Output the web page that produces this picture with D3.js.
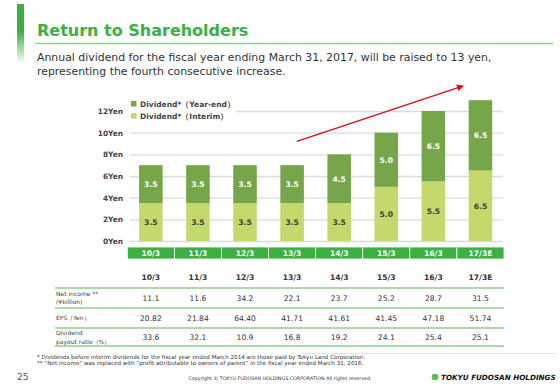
<!DOCTYPE html>
<html>
<head>
<meta charset="utf-8">
<script src="https://cdn.jsdelivr.net/npm/d3@7"></script>
<style>
  body { margin: 0; background: #fff; }
  svg { display: block; font-family: "DejaVu Sans", Verdana, sans-serif; }
</style>
</head>
<body>
<div class="chart"></div>
<script>
// data ------------------------------------------------------------
const categories = ["10/3", "11/3", "12/3", "13/3", "14/3", "15/3", "16/3", "17/3E"];
const interim = [3.5, 3.5, 3.5, 3.5, 3.5, 5.0, 5.5, 6.5];
const yearEnd = [3.5, 3.5, 3.5, 3.5, 4.5, 5.0, 6.5, 6.5];
const yTicks = [0, 2, 4, 6, 8, 10, 12];
const netIncome = [11.1, 11.6, 34.2, 22.1, 23.7, 25.2, 28.7, 31.5];
const eps = [20.82, 21.84, 64.40, 41.71, 41.61, 41.45, 47.18, 51.74];
const payout = [33.6, 32.1, 10.9, 16.8, 19.2, 24.1, 25.4, 25.1];
const seriesNames = ["Dividend*（Year-end）", "Dividend*（Interim）"];

const W = 560, H = 388;
const svg = d3.select(".chart").append("svg")
    .attr("width", W)
    .attr("height", H);

const green = "#3cb043";
const darkSeg = "#76a54a", lightSeg = "#c4d96c";

// header ----------------------------------------------------------
const defs = svg.append("defs");
const grad = defs.append("linearGradient").attr("id", "sidebar")
    .attr("x1", 0).attr("y1", 0).attr("x2", 0).attr("y2", 1);
grad.append("stop").attr("offset", "0%").attr("stop-color", green);
grad.append("stop").attr("offset", "45%").attr("stop-color", green);
grad.append("stop").attr("offset", "100%").attr("stop-color", "#fff");

svg.append("rect").attr("x", 17).attr("y", 4).attr("width", 7).attr("height", 60)
    .attr("fill", "url(#sidebar)");

svg.append("text")
    .attr("x", 37).attr("y", 36)
    .attr("font-size", 16).attr("font-weight", "bold")
    .attr("fill", green)
    .text("Return to Shareholders");

svg.append("line")
    .attr("x1", 35).attr("x2", 553).attr("y1", 43.5).attr("y2", 43.5)
    .attr("stroke", "#8fd48f").attr("stroke-width", 1.5);

svg.append("text").attr("x", 37).attr("y", 61)
    .attr("font-size", 10.9).attr("fill", "#333")
    .text("Annual dividend for the fiscal year ending March 31, 2017, will be raised to 13 yen,");
svg.append("text").attr("x", 37).attr("y", 75)
    .attr("font-size", 10.9).attr("fill", "#333")
    .text("representing the fourth consecutive increase.");

// chart -----------------------------------------------------------
const xScale = d3.scaleBand().domain(categories).range([127.3, 504]);
const yScale = d3.scaleLinear().domain([0, 12]).range([241, 111]);
const barW = xScale.bandwidth() * 0.5;

const yAxis = d3.axisLeft(yScale)
    .tickValues(yTicks)
    .tickSize(-(503 - 130))
    .tickPadding(7)
    .tickFormat(d => d + "Yen");

const gy = svg.append("g")
    .attr("transform", "translate(130,0)")
    .call(yAxis);
gy.select(".domain").remove();
gy.selectAll(".tick line").attr("stroke", "#dcdcdc").attr("stroke-width", 1.3);
gy.selectAll(".tick text")
    .attr("font-family", "DejaVu Sans, sans-serif")
    .attr("font-size", 7.4).attr("font-weight", "bold").attr("fill", "#444");

// stacked bars
const stacked = categories.map((c, i) => ({ cat: c, interim: interim[i], yearEnd: yearEnd[i] }));

const barG = svg.append("g");
barG.selectAll(".bar-int")
    .data(stacked)
    .enter().append("rect")
    .attr("class", "bar-int")
    .attr("x", d => xScale(d.cat) + (xScale.bandwidth() - barW) / 2)
    .attr("width", barW)
    .attr("y", d => yScale(d.interim))
    .attr("height", d => yScale(0) - yScale(d.interim))
    .attr("fill", lightSeg);

barG.selectAll(".bar-ye")
    .data(stacked)
    .enter().append("rect")
    .attr("class", "bar-ye")
    .attr("x", d => xScale(d.cat) + (xScale.bandwidth() - barW) / 2)
    .attr("width", barW)
    .attr("y", d => yScale(d.interim + d.yearEnd))
    .attr("height", d => yScale(d.interim) - yScale(d.interim + d.yearEnd))
    .attr("fill", darkSeg);

barG.selectAll(".lbl-int")
    .data(stacked)
    .enter().append("text")
    .attr("x", d => xScale(d.cat) + xScale.bandwidth() / 2)
    .attr("y", d => yScale(d.interim / 2) + 3)
    .attr("text-anchor", "middle")
    .attr("font-size", 7.6).attr("font-weight", "bold").attr("fill", "#3a3a3a")
    .text(d => d3.format(".1f")(d.interim));

barG.selectAll(".lbl-ye")
    .data(stacked)
    .enter().append("text")
    .attr("x", d => xScale(d.cat) + xScale.bandwidth() / 2)
    .attr("y", d => yScale(d.interim + d.yearEnd / 2) + 3)
    .attr("text-anchor", "middle")
    .attr("font-size", 7.6).attr("font-weight", "bold").attr("fill", "#fff")
    .text(d => d3.format(".1f")(d.yearEnd));

// category band
const band = svg.append("g");
band.selectAll("rect")
    .data(categories)
    .enter().append("rect")
    .attr("x", d => xScale(d))
    .attr("y", 247)
    .attr("width", xScale.bandwidth())
    .attr("height", 12)
    .attr("fill", green)
    .attr("stroke", "#fff")
    .attr("stroke-width", 0.8);
band.selectAll("text")
    .data(categories)
    .enter().append("text")
    .attr("x", d => xScale(d) + xScale.bandwidth() / 2)
    .attr("y", 256)
    .attr("text-anchor", "middle")
    .attr("font-size", 7.6).attr("font-weight", "bold").attr("fill", "#fff")
    .text(d => d);

// legend (white box covers the top grid line)
const legend = svg.append("g");
legend.append("rect").attr("x", 128).attr("y", 96).attr("width", 108).attr("height", 25).attr("fill", "#fff");
legend.selectAll("rect.key")
    .data(seriesNames)
    .enter().append("rect")
    .attr("class", "key")
    .attr("x", 131)
    .attr("y", (d, i) => 101 + i * 12)
    .attr("width", 5.5).attr("height", 5.5)
    .attr("fill", (d, i) => i === 0 ? darkSeg : lightSeg);
legend.selectAll("text")
    .data(seriesNames)
    .enter().append("text")
    .attr("x", 140)
    .attr("y", (d, i) => 107 + i * 12)
    .attr("font-size", 7.5).attr("font-weight", "bold").attr("fill", "#444")
    .text(d => d);

// red trend arrow
defs.append("marker").attr("id", "arrowhead")
    .attr("viewBox", "0 0 10 10").attr("refX", 8).attr("refY", 5)
    .attr("markerWidth", 5).attr("markerHeight", 5)
    .attr("orient", "auto")
    .append("path").attr("d", "M0,0 L10,5 L0,10 z").attr("fill", "#d0121b");

const step = xScale.step();
svg.append("line")
    .attr("x1", xScale("13/3") + step * 0.6).attr("y1", yScale(9.2))
    .attr("x2", xScale("17/3E") + step * 0.12).attr("y2", yScale(14.3))
    .attr("stroke", "#d0121b").attr("stroke-width", 1.4)
    .attr("marker-end", "url(#arrowhead)");

// table -----------------------------------------------------------
const colX = d => xScale(d) + xScale.bandwidth() / 2;
const table = svg.append("g").attr("fill", "#333");

table.selectAll(".hdr")
    .data(categories)
    .enter().append("text")
    .attr("x", colX).attr("y", 280)
    .attr("text-anchor", "middle")
    .attr("font-size", 7.6).attr("font-weight", "bold")
    .text(d => d);

const rowLines = [288, 308, 328, 346];
table.selectAll("line")
    .data(rowLines)
    .enter().append("line")
    .attr("x1", 55).attr("x2", 504)
    .attr("y1", d => d).attr("y2", d => d)
    .attr("stroke", "#8fce8f").attr("stroke-width", 1.3);

const rows = [
  { vals: netIncome, fmt: ".1f", y: 298, label: ["Net income **", "(¥billion)"] },
  { vals: eps, fmt: ".2f", y: 318, label: ["EPS（Yen）"] },
  { vals: payout, fmt: ".1f", y: 337.5, label: ["Dividend", "payout ratio（%）"] }
];

rows.forEach(r => {
  table.append("g").selectAll("text")
      .data(r.vals)
      .enter().append("text")
      .attr("x", (d, i) => colX(categories[i]))
      .attr("y", r.y + 2.7)
      .attr("text-anchor", "middle")
      .attr("font-size", 7.6)
      .text(d => d3.format(r.fmt)(d));
  const n = r.label.length;
  r.label.forEach((t, j) => {
    table.append("text")
        .attr("x", 56)
        .attr("y", r.y + 2.2 + (j - (n - 1) / 2) * 8.5)
        .attr("font-size", 6)
        .attr("fill", "#444")
        .text(t);
  });
});

// footer ----------------------------------------------------------
svg.append("line")
    .attr("x1", 300).attr("x2", 556).attr("y1", 353.5).attr("y2", 353.5)
    .attr("stroke", "#e4e4e4").attr("stroke-width", 1);

svg.append("text").attr("x", 37).attr("y", 358.5)
    .attr("font-size", 5.6).attr("fill", "#333")
    .text("* Dividends before interim dividends for the fiscal year ended March 2014 are those paid by Tokyu Land Corporation.");
svg.append("text").attr("x", 37).attr("y", 365)
    .attr("font-size", 5.6).attr("fill", "#333")
    .text("** \u201CNet income\u201D was replaced with \u201Cprofit attributable to owners of parent\u201D in the fiscal year ended March 31, 2016.");

svg.append("text").attr("x", 17).attr("y", 380)
    .attr("font-size", 9).attr("fill", "#555")
    .text("25");

svg.append("text").attr("x", 280).attr("y", 380)
    .attr("text-anchor", "middle")
    .attr("font-size", 4.8).attr("fill", "#333")
    .text("Copyright \u00A9 TOKYU FUDOSAN HOLDINGS CORPORATION All rights reserved.");

svg.append("circle").attr("cx", 435).attr("cy", 377).attr("r", 3.3).attr("fill", "#5cbf4a");
svg.append("text").attr("x", 441).attr("y", 380)
    .attr("font-size", 7.2).attr("font-weight", "bold").attr("font-style", "italic")
    .attr("fill", "#111")
    .text("TOKYU FUDOSAN HOLDINGS");
</script>
</body>
</html>
